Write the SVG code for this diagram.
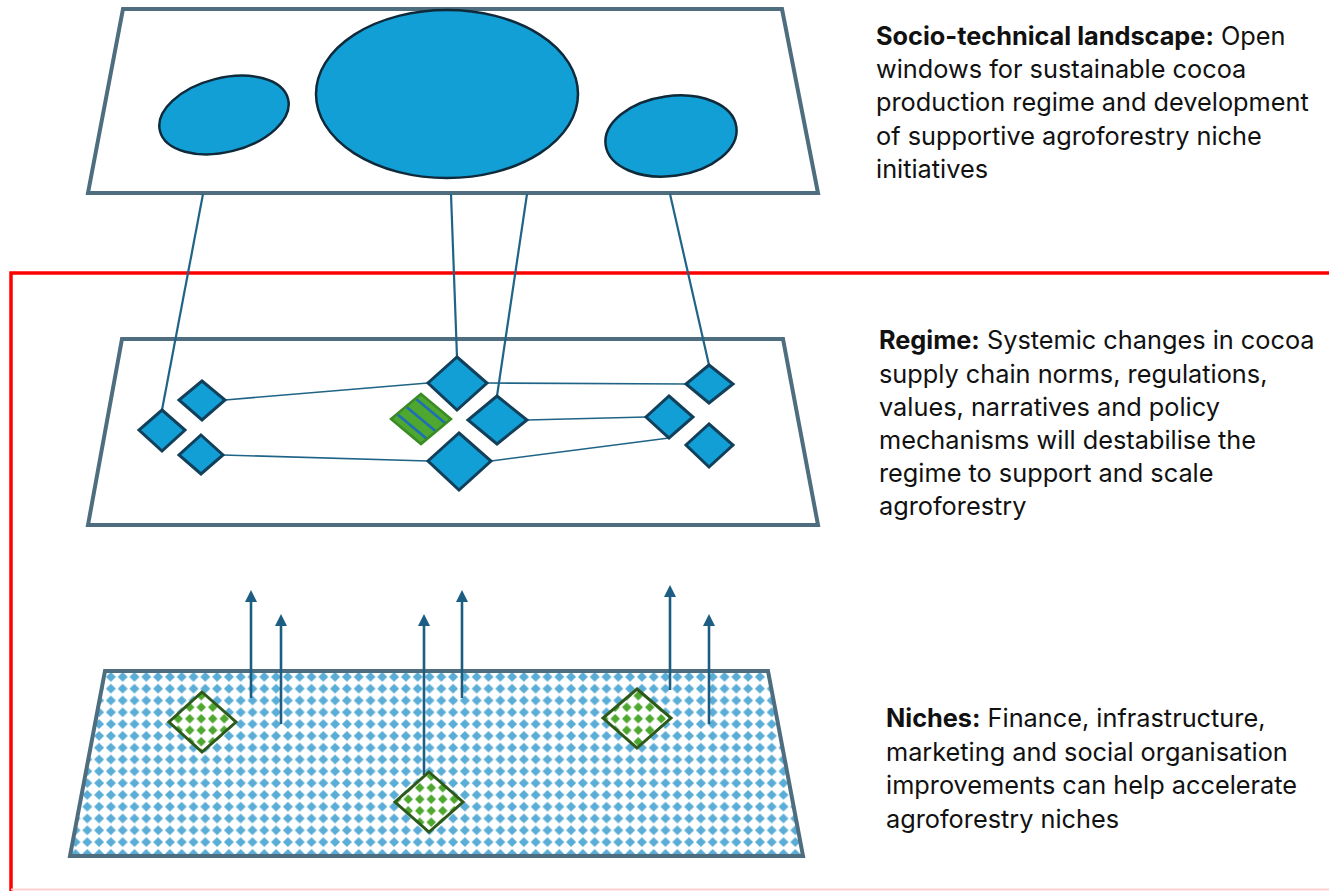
<svg xmlns="http://www.w3.org/2000/svg" width="1329" height="891" viewBox="0 0 1329 891">
<defs>
<pattern id="nichePat" patternUnits="userSpaceOnUse" width="11.8" height="11.8" x="105" y="671">
<rect width="11.8" height="11.8" fill="#ffffff"/>
<path d="M5.9,0.9 L10.9,5.9 L5.9,10.9 L0.9,5.9 Z" fill="#5AADD6"/>
</pattern>
<pattern id="greenPat" patternUnits="userSpaceOnUse" width="11.5" height="11.5">
<rect width="11.5" height="11.5" fill="#ffffff"/>
<path d="M5.75,1 L10.5,5.75 L5.75,10.5 L1,5.75 Z" fill="#4EA72E"/>
</pattern>
<marker id="arrowUp" viewBox="0 0 12 12" refX="3" refY="6" markerWidth="12" markerHeight="12" markerUnits="userSpaceOnUse" orient="auto">
<path d="M0,0 L12,6 L0,12 Z" fill="#1B5E82"/>
</marker>
<clipPath id="stripeClip"><path d="M421,394 L451,419 L421,444 L391,419 Z"/></clipPath>
</defs>
<style>
.plane{fill:#ffffff;stroke:#4E6E80;stroke-width:4;stroke-linejoin:miter}
.blob{fill:#129FD6;stroke:#0F2A3A;stroke-width:2.5}
.dia{fill:#129FD6;stroke:#123F5A;stroke-width:3;stroke-linejoin:miter}
.gdia{fill:url(#greenPat);stroke:#2D5A1B;stroke-width:3;stroke-linejoin:miter}
.link{stroke:#1F6487;stroke-width:1.6;fill:none}
.drop{stroke:#1F6487;stroke-width:2.2;fill:none}
.arrow{stroke:#1B5E82;stroke-width:2.6;fill:none;marker-end:url(#arrowUp)}
.txt{font-family:Inter,"Open Sans","Liberation Sans",sans-serif;font-size:25.3px;fill:#111111}
.b{font-weight:700}
</style>

<rect width="1329" height="891" fill="#ffffff"/>

<!-- red frame -->
<g id="frame">
<path d="M1329,273 H11 V891" fill="none" stroke="#FF0000" stroke-width="3.5"/>
<line x1="11" y1="889.5" x2="1329" y2="889.5" stroke="#FFD0D0" stroke-width="2"/>
</g>

<!-- landscape plane -->
<g id="landscape">
<path class="plane" d="M123,9 L782,9 L818,193 L88,193 Z"/>
<ellipse class="blob" cx="224" cy="115" rx="66" ry="37" transform="rotate(-14 224 115)"/>
<ellipse class="blob" cx="447" cy="94" rx="131" ry="84"/>
<ellipse class="blob" cx="671" cy="136" rx="66" ry="40" transform="rotate(-8 671 136)"/>
</g>

<!-- regime plane -->
<g id="regime">
<path class="plane" d="M122,339 L783,339 L818,525 L88,525 Z"/>
</g>

<!-- niches plane -->
<g id="niches">
<path d="M105,671 L768,671 L803,856 L70,856 Z" fill="url(#nichePat)" stroke="#4E6E80" stroke-width="4"/>
</g>

<!-- connectors -->
<g id="connectors">
<line class="drop" x1="203" y1="194" x2="162" y2="410"/>
<line class="drop" x1="451" y1="194" x2="457" y2="357"/>
<line class="drop" x1="527" y1="194" x2="497" y2="396"/>
<line class="drop" x1="670" y1="194" x2="709" y2="365"/>
<line class="link" x1="225" y1="400" x2="428" y2="383"/>
<line class="link" x1="223" y1="455" x2="428" y2="461"/>
<line class="link" x1="487" y1="383" x2="686" y2="384"/>
<line class="link" x1="527" y1="420" x2="646" y2="417"/>
<line class="link" x1="491" y1="461" x2="669" y2="438"/>
<line class="arrow" x1="251" y1="698" x2="251" y2="599"/>
<line class="arrow" x1="281" y1="724" x2="281" y2="623"/>
<line class="arrow" x1="424" y1="775" x2="424" y2="623"/>
<line class="arrow" x1="462" y1="698" x2="462" y2="599"/>
<line class="arrow" x1="670" y1="690" x2="670" y2="594"/>
<line class="arrow" x1="709" y1="724" x2="709" y2="623"/>
</g>

<!-- regime nodes -->
<g id="regime-a"><path class="dia" d="M162,410 L185,430 L162,451 L139,430 Z"/></g>
<g id="regime-b"><path class="dia" d="M202,381 L225,400 L202,420 L179,400 Z"/></g>
<g id="regime-c"><path class="dia" d="M201,435 L223,455 L201,474 L179,455 Z"/></g>
<g id="regime-d"><path class="dia" d="M457,357 L487,383 L457,410 L428,383 Z"/></g>
<g id="regime-e"><path class="dia" d="M497,396 L527,420 L497,444 L468,420 Z"/></g>
<g id="regime-f"><path class="dia" d="M459,433 L491,461 L459,490 L428,461 Z"/></g>
<g id="regime-g"><path class="dia" d="M709,365 L733,384 L709,403 L686,384 Z"/></g>
<g id="regime-h"><path class="dia" d="M669,396 L693,417 L669,438 L646,417 Z"/></g>
<g id="regime-i"><path class="dia" d="M709,424 L733,445 L709,467 L686,445 Z"/></g>
<g id="regime-niche">
<path d="M421,394 L451,419 L421,444 L391,419 Z" fill="#4EA72E"/>
<g clip-path="url(#stripeClip)" stroke="#1F6FB5" stroke-width="2.8">
<line x1="415.6" y1="398.5" x2="445.6" y2="423.5"/>
<line x1="406" y1="406.5" x2="436" y2="431.5"/>
<line x1="397" y1="414" x2="427" y2="439"/>
</g>
<path d="M421,394 L451,419 L421,444 L391,419 Z" fill="none" stroke="#3A8A25" stroke-width="2.5"/>
</g>

<!-- niche nodes -->
<g id="niche-1"><path class="gdia" d="M202,692 L236,722 L202,752 L169,722 Z"/></g>
<g id="niche-2"><path class="gdia" d="M429,772 L463,802 L429,832 L395,802 Z"/></g>
<g id="niche-3"><path class="gdia" d="M637,689 L671,718 L637,748 L603,718 Z"/></g>

<!-- texts -->
<g id="landscape-label">
<text class="txt" x="876" y="45"><tspan class="b">Socio-technical landscape:</tspan> Open</text>
<text class="txt" x="876" y="78">windows for sustainable cocoa</text>
<text class="txt" x="876" y="111">production regime and development</text>
<text class="txt" x="876" y="145">of supportive agroforestry niche</text>
<text class="txt" x="876" y="178">initiatives</text>
</g>
<g id="regime-label">
<text class="txt" x="879" y="349"><tspan class="b">Regime:</tspan> Systemic changes in cocoa</text>
<text class="txt" x="879" y="383">supply chain norms, regulations,</text>
<text class="txt" x="879" y="416">values, narratives and policy</text>
<text class="txt" x="879" y="449">mechanisms will destabilise the</text>
<text class="txt" x="879" y="482">regime to support and scale</text>
<text class="txt" x="879" y="515">agroforestry</text>
</g>
<g id="niches-label">
<text class="txt" x="886" y="727"><tspan class="b">Niches:</tspan> Finance, infrastructure,</text>
<text class="txt" x="886" y="761">marketing and social organisation</text>
<text class="txt" x="886" y="794">improvements can help accelerate</text>
<text class="txt" x="886" y="828">agroforestry niches</text>
</g>
</svg>
